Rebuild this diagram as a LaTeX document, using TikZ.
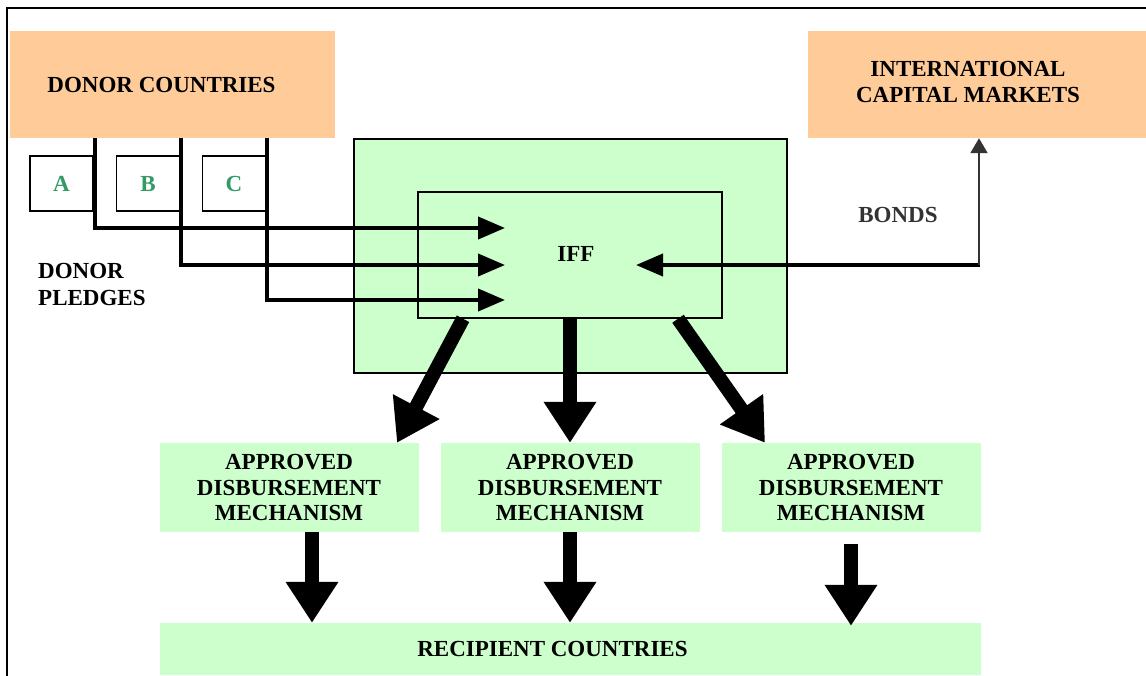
\documentclass[tikz,border=0pt]{standalone}
\usepackage{fontspec}
\setmainfont{Liberation Serif}
\usepackage{tikz}
\usetikzlibrary{arrows.meta,positioning,calc}
\definecolor{peach}{HTML}{FFCC99}
\definecolor{mint}{HTML}{CCFFCC}
\definecolor{lettergreen}{RGB}{51,153,102}
\definecolor{bondgray}{HTML}{333333}

\begin{document}
\begin{tikzpicture}[
  x=1pt, y=-1pt,
  every node/.style={font=\fontsize{23}{25.5}\selectfont\bfseries, inner sep=0pt},
  source/.style={fill=peach, minimum height=107pt, align=center},
  donorbox/.style={draw, line width=1.5pt, minimum width=63pt, minimum height=55pt,
                   text=lettergreen},
  fund/.style={draw, line width=1.5pt, fill=mint},
  mech/.style={fill=mint, minimum width=259pt, minimum height=89pt, align=center},
  pledge/.style={line width=4pt, -{Triangle[length=27pt, width=22pt]}},
  fat/.style={line width=14pt, -{Triangle[length=41pt, width=50pt]}},
  bond/.style={line width=2pt, draw=bondgray, -{Triangle[length=15pt, width=17pt]}},
]
\useasboundingbox (0,0) rectangle (1146,675);
% Frame
\draw[line width=2.2pt] (7,8) rectangle (1170,700);

% Sources
\node[source, minimum width=325pt] (donor) at (172.5,84.5)
  {\raisebox{-3pt}{DONOR COUNTRIES}\hspace*{22pt}};
\node[source, minimum width=338pt] (icm) at (977,84.5)
  {\raisebox{5pt}{\begin{tabular}{@{}c@{}}INTERNATIONAL\\CAPITAL MARKETS\end{tabular}}%
   \hspace*{18pt}};

% Donors A, B, C
\node[donorbox] (A) at (61.5,183.5) {A};
\node[donorbox] (B) at (148,183.5) {B};
\node[donorbox] (C) at (234,183.5) {C};
\node[anchor=west, align=left] (pledges) at (38,284) {DONOR\\[1.5pt]PLEDGES};

% IFF
\node[fund, minimum width=433pt, minimum height=234pt] (outer) at (570.5,256) {};
\node[fund, minimum width=304pt, minimum height=126pt] (iff) at (570,255)
  {\raisebox{2pt}{IFF}\hspace*{-12pt}};
\node[text=bondgray] (bonds) at (898,215) {BONDS};

% Mechanisms and recipients
\node[mech] (adm1) at (289,487.5) {APPROVED\\DISBURSEMENT\\MECHANISM};
\node[mech] (adm2) at (570,487.5) {APPROVED\\DISBURSEMENT\\MECHANISM};
\node[mech] (adm3) at (851,487.5) {APPROVED\\DISBURSEMENT\\MECHANISM};
\node[fill=mint, minimum width=821pt, minimum height=52pt] (recipient) at (570.5,649)
  {\raisebox{-2pt}{RECIPIENT COUNTRIES}\hspace*{36pt}};

% Pledges into the IFF
\foreach \x/\y [count=\i] in {95/228,181/265,267/300} {
  \coordinate (turn\i) at (\x,\y);
  \coordinate (tip\i) at (505,\y);
  \draw[pledge] (donor.south -| turn\i) -- (turn\i) -- (tip\i);
}

% Bonds
\coordinate (bend) at (979,265);
\coordinate (bondtip) at (636,265);
\draw[pledge] ([xshift=1pt]bend) -- (bondtip);
\draw[bond] (bend) -- (icm.south -| bend);

% Disbursements
\draw[fat] ([xshift=-107pt]iff.south) -- ([xshift=108pt]adm1.north);
\draw[fat] (iff.south) -- (adm2.north);
\draw[fat] ([xshift=108pt]iff.south) -- ([xshift=-86pt]adm3.north);

\draw[fat] ([xshift=23pt]adm1.south) -- ([xshift=-258.5pt]recipient.north);
\draw[fat] (adm2.south) -- (adm2.south |- recipient.north);
\draw[fat] ([yshift=-12pt]adm3.south) -- ([yshift=-3pt]adm3.south |- recipient.north);
\end{tikzpicture}
\end{document}
